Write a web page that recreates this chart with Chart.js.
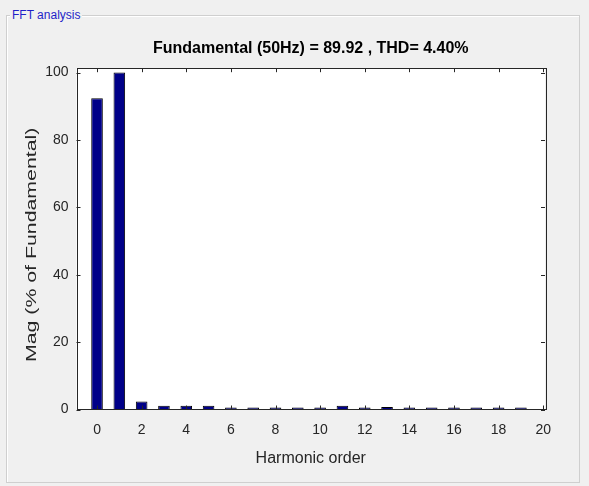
<!DOCTYPE html>
<html>
<head>
<meta charset="utf-8">
<script src="https://cdn.jsdelivr.net/npm/chart.js@4.4.1/dist/chart.umd.min.js"></script>
<style>
  html, body { margin: 0; padding: 0; background: #f0f0f0; }
  #wrap { position: relative; width: 589px; height: 486px; overflow: hidden; }
  #frame {
    position: absolute; left: 6px; top: 15px; width: 572px; height: 466px;
    border: 1px solid #cfcfcf; box-shadow: inset 1px 1px 0 #ffffff;
  }
  #frame-label {
    position: absolute; left: 10px; top: 8px; padding: 0 2px;
    background: #f0f0f0; color: #1f1fc8;
    font: 12px "Liberation Sans", Arial, sans-serif; line-height: 15px;
  }
  #fft { position: absolute; left: 0; top: 0; }
</style>
</head>
<body>
<div id="wrap">
  <div id="frame"></div>
  <div id="frame-label">FFT analysis</div>
  <canvas id="fft" width="589" height="486"></canvas>
</div>
<script>
// harmonic spectrum, % of fundamental
const harmonicOrder = [0, 1, 2, 3, 4, 5, 6, 7, 8, 9, 10, 11, 12, 13, 14, 15, 16, 17, 18, 19];
const magnitude = [92.4, 100, 2.4, 1.1, 1.1, 1.1, 0.35, 0.3, 0.35, 0.3, 0.35, 1.15, 0.35, 0.75, 0.1, 0.1, 0.1, 0.1, 0.1, 0.1];
const xTickValues = [0, 2, 4, 6, 8, 10, 12, 14, 16, 18, 20];
const yTickValues = [0, 20, 40, 60, 80, 100];

const titleText = 'Fundamental (50Hz) = 89.92 , THD= 4.40%';
const xTitle = 'Harmonic order';
const yTitle = 'Mag (% of Fundamental)';

const FONT = '"Liberation Sans", Arial, Helvetica, sans-serif';
const axisColor = '#262626';

// white plot background, boxed axes with inward ticks, stretched y label
const matlabAxes = {
  id: 'matlabAxes',
  beforeDatasetsDraw(chart) {
    const { ctx, chartArea: a } = chart;
    ctx.save();
    ctx.fillStyle = '#ffffff';
    ctx.fillRect(a.left, a.top, a.right - a.left, a.bottom - a.top);
    ctx.restore();
  },
  afterDatasetsDraw(chart) {
    const { ctx, chartArea: a, scales } = chart;
    const len = 4;
    ctx.save();
    ctx.strokeStyle = axisColor;
    ctx.lineWidth = 1;
    ctx.beginPath();
    xTickValues.forEach(v => {
      const x = Math.round(scales.x.getPixelForValue(v)) + 0.5;
      ctx.moveTo(x, a.bottom); ctx.lineTo(x, a.bottom - len);
      ctx.moveTo(x, a.top); ctx.lineTo(x, a.top + len);
    });
    yTickValues.forEach(v => {
      const y = Math.round(scales.y.getPixelForValue(v)) + 0.5;
      ctx.moveTo(a.left, y); ctx.lineTo(a.left + len, y);
      ctx.moveTo(a.right, y); ctx.lineTo(a.right - len, y);
    });
    ctx.stroke();
    ctx.strokeRect(Math.round(a.left) + 0.5, Math.round(a.top) + 0.5,
      Math.round(a.right - a.left), Math.round(a.bottom - a.top));

    // y label, drawn a bit stretched along its length
    ctx.translate(31.5, (a.top + a.bottom) / 2 + 6);
    ctx.rotate(-Math.PI / 2);
    ctx.scale(1.42, 1);
    ctx.fillStyle = axisColor;
    ctx.font = '15px ' + FONT;
    ctx.textAlign = 'center';
    ctx.textBaseline = 'middle';
    ctx.fillText(yTitle, 0, 0);
    ctx.restore();
  }
};

new Chart(document.getElementById('fft'), {
  type: 'bar',
  data: {
    datasets: [{
      data: harmonicOrder.map((h, i) => ({ x: h, y: magnitude[i] })),
      backgroundColor: '#000088',
      borderColor: '#000000',
      borderWidth: 1,
      minBarLength: 2,
      barPercentage: 0.52,
      categoryPercentage: 1
    }]
  },
  options: {
    responsive: false,
    animation: false,
    layout: { padding: { left: 0, right: 44, top: 0, bottom: 0 } },
    plugins: {
      legend: { display: false },
      tooltip: { enabled: false },
      title: {
        display: true,
        text: titleText,
        fullSize: false,
        color: '#000000',
        font: { family: FONT, size: 16, weight: 'bold' },
        padding: { top: 39, bottom: 10 }
      }
    },
    scales: {
      x: {
        type: 'linear',
        offset: false,
        min: -0.92,
        max: 20.08,
        grid: { display: false, drawTicks: false, offset: false },
        border: { display: false },
        afterBuildTicks: s => { s.ticks = xTickValues.map(v => ({ value: v })); },
        afterFit: s => { s.height = 76.5; },
        ticks: {
          color: axisColor,
          font: { family: FONT, size: 14 },
          padding: 12,
          maxRotation: 0,
          autoSkip: false
        },
        title: {
          display: true,
          text: xTitle,
          color: axisColor,
          font: { family: FONT, size: 16 },
          padding: { top: 0, bottom: 18 }
        }
      },
      y: {
        min: 0,
        max: 101.3,
        grid: { display: false, drawTicks: false },
        border: { display: false },
        afterBuildTicks: s => { s.ticks = yTickValues.map(v => ({ value: v })); },
        afterFit: s => { s.width = 76.5; },
        ticks: {
          color: axisColor,
          font: { family: FONT, size: 14 },
          padding: 8
        }
      }
    }
  },
  plugins: [matlabAxes]
});
</script>
</body>
</html>
